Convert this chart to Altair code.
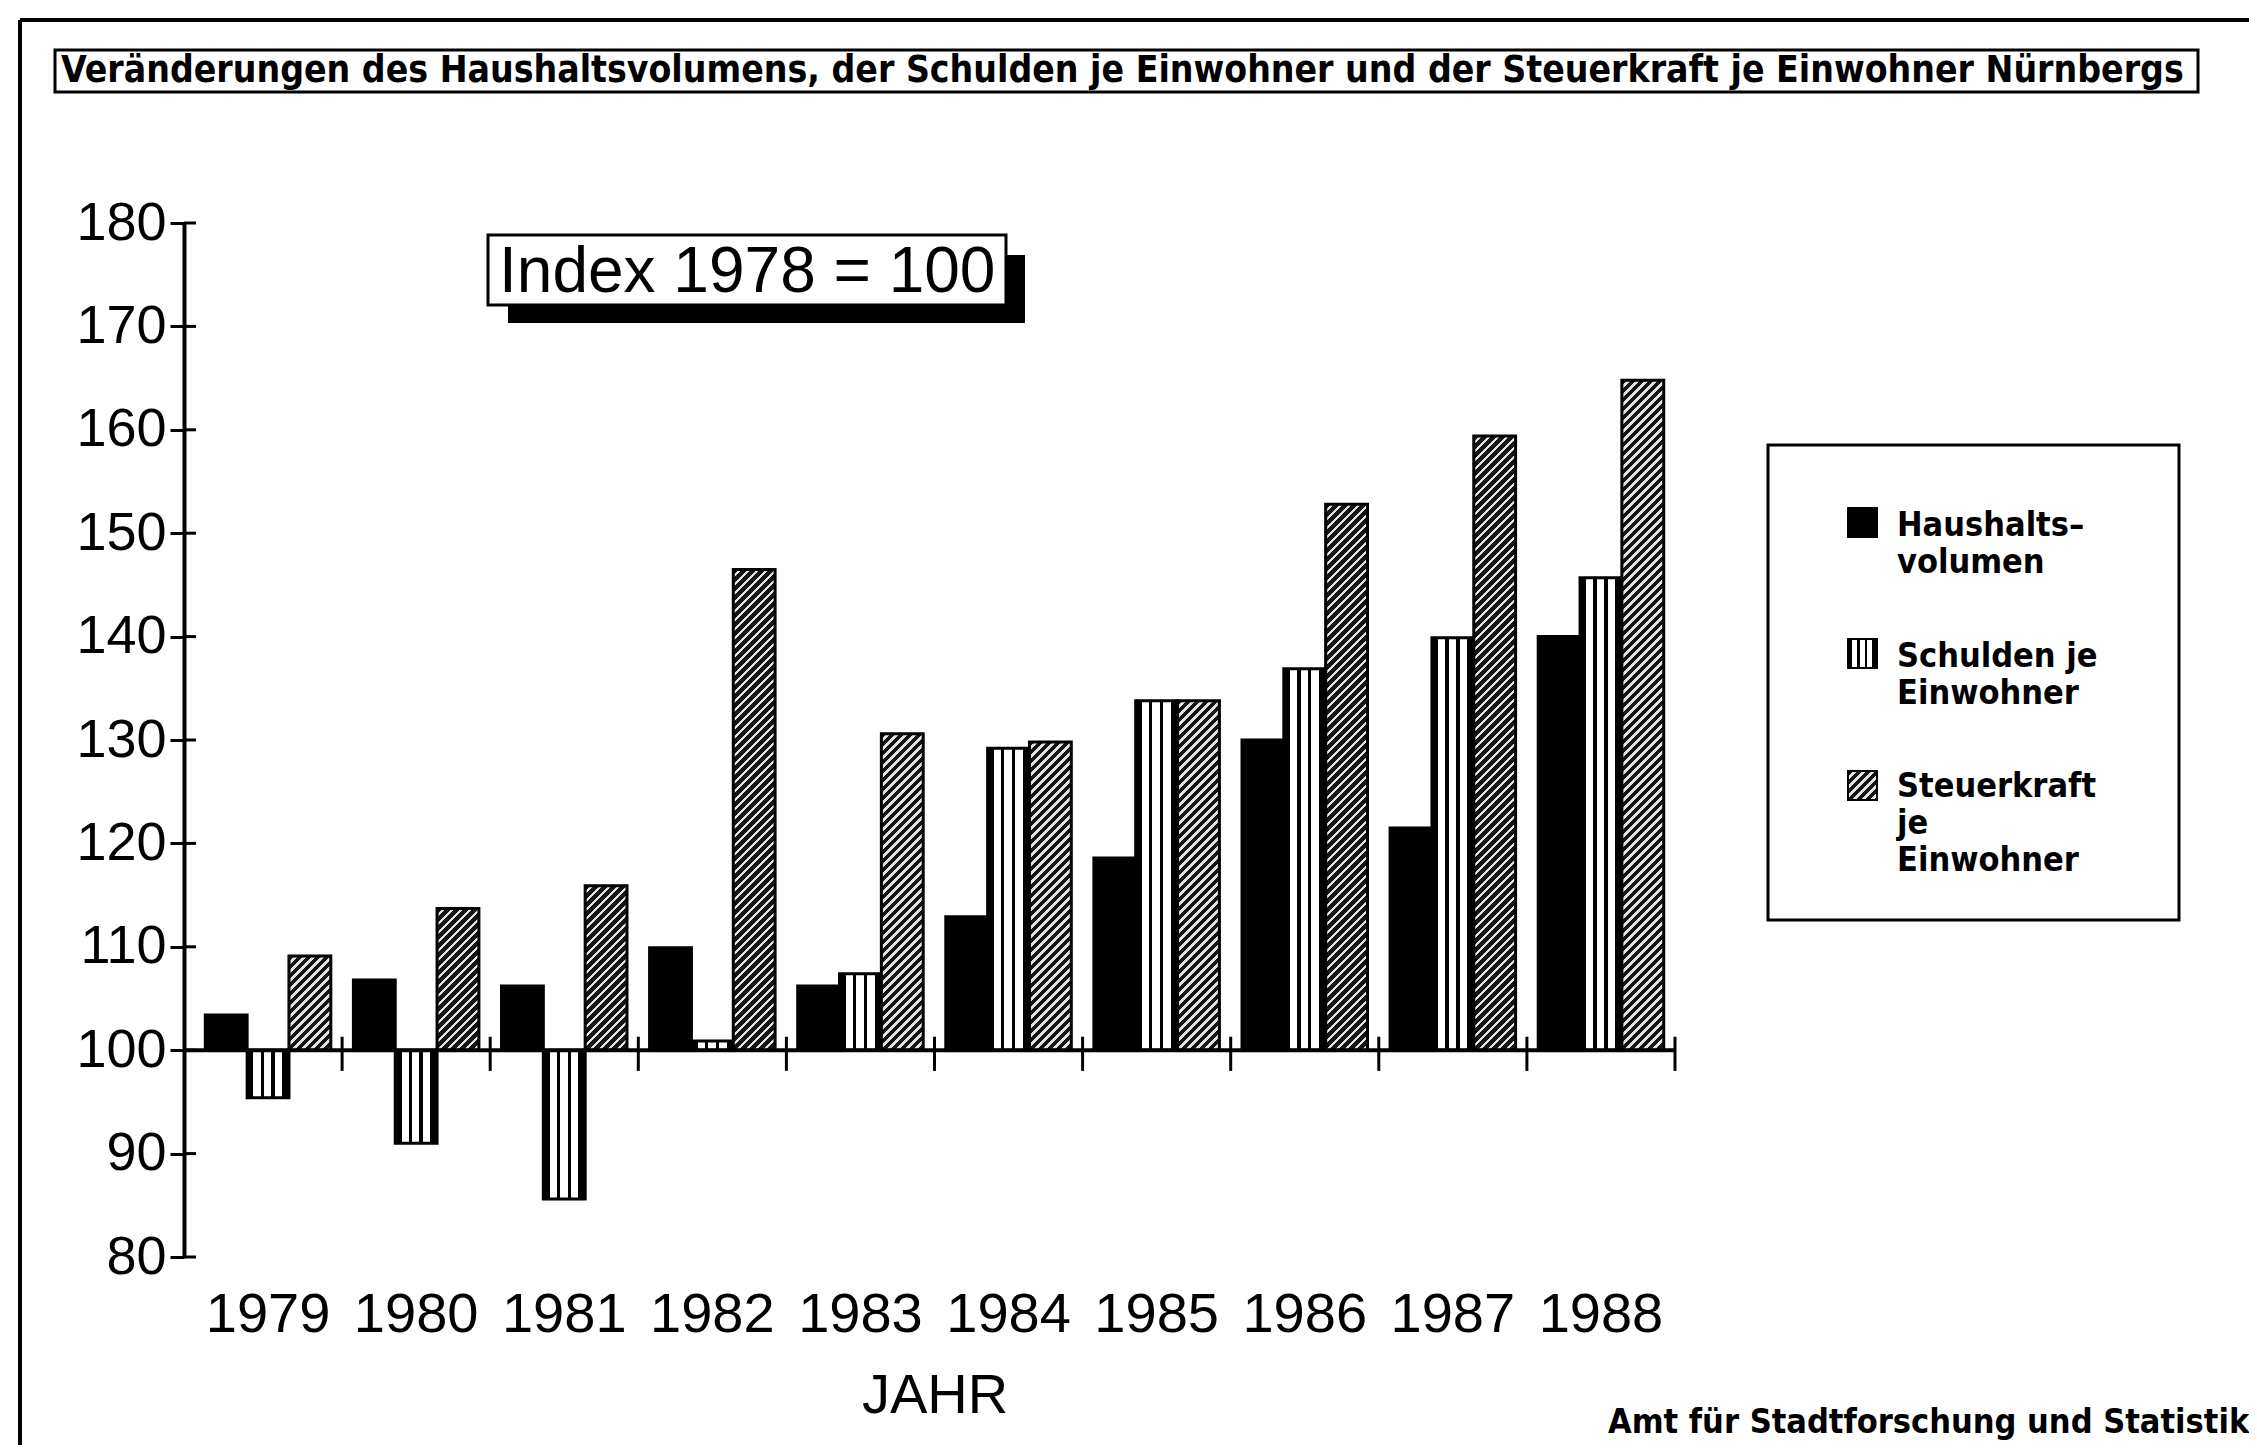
import math
import altair as alt
import pandas as pd

# ---------------- data ----------------
YEARS = ["1979", "1980", "1981", "1982", "1983", "1984", "1985", "1986", "1987", "1988"]
HAUSHALT = [103.4, 106.8, 106.2, 109.9, 106.2, 112.9, 118.6, 130.0, 121.5, 140.0]
SCHULDEN = [95.4, 91.0, 85.6, 100.9, 107.4, 129.2, 133.8, 136.9, 139.9, 145.7]
STEUER = [109.1, 113.7, 115.9, 146.5, 130.6, 129.8, 133.8, 152.8, 159.4, 164.8]
SERIES = ["Haushaltsvolumen", "Schulden je Einwohner", "Steuerkraft je Einwohner"]
Y_TICKS = [80, 90, 100, 110, 120, 130, 140, 150, 160, 170, 180]
BASE = 100
TITLE = ("Veränderungen des Haushaltsvolumens, der Schulden je Einwohner "
         "und der Steuerkraft je Einwohner Nürnbergs")
INDEX_TEXT = "Index 1978 = 100"
LEGEND_LABELS = [["Haushalts–", "volumen"], ["Schulden je", "Einwohner"],
                 ["Steuerkraft", "je", "Einwohner"]]
X_TITLE = "JAHR"
SOURCE = "Amt für Stadtforschung und Statistik"

# ---------------- layout ----------------
W, H = 1481, 1034
PAD = {"left": 186, "top": 215, "right": 574, "bottom": 188}
P_OUT = 0.27
BAR_W = (W / len(YEARS)) / (3 + 2 * P_OUT)
COND = "DejaVu Sans Condensed"
SANS = "Liberation Sans"

yscale = alt.Scale(domain=[80, 180], nice=False, zero=False)
xscale = alt.Scale(domain=YEARS, paddingInner=0, paddingOuter=0)
oscale = alt.Scale(domain=SERIES, paddingInner=0, paddingOuter=P_OUT)

x_axis = alt.Axis(title=X_TITLE, labelAngle=0, domain=False, ticks=False,
                  labelFont=SANS, labelFontSize=56, labelColor="black", labelPadding=30,
                  titleFont=SANS, titleFontSize=56, titleFontWeight="normal",
                  titleColor="black", titlePadding=26)
y_axis = alt.Axis(title=None, values=Y_TICKS, grid=False, offset=10,
                  labelFont=SANS, labelFontSize=54, labelColor="black", labelPadding=4,
                  tickSize=14, tickWidth=3, tickColor="black",
                  domainWidth=4, domainColor="black")


def xenc(**kw):
    return alt.X("year:N", scale=xscale, axis=x_axis, **kw)


def yenc(field="value:Q"):
    return alt.Y(field, scale=yscale, axis=y_axis)


def stripes():
    pts = [(0, 0.15, "black"), (0.15, 0.32, "white"), (0.32, 0.40, "black"),
           (0.40, 0.58, "white"), (0.58, 0.66, "black"), (0.66, 0.84, "white"),
           (0.84, 1.0, "black")]
    stops = []
    for a, b, c in pts:
        stops.append({"offset": a, "color": c})
        stops.append({"offset": b, "color": c})
    return {"gradient": "linear", "x1": 0, "y1": 0, "x2": 1, "y2": 0, "stops": stops}


def hatch(w, h, period=9.0, dark_frac=0.6, dark="#151515", light="#e2e2e2"):
    lam = (w + h) / (w * w + h * h)
    total = w + h
    n = int(math.ceil(total / period))
    stops = []
    for k in range(n):
        t0 = min(1.0, k * period / total)
        t1 = min(1.0, (k + dark_frac) * period / total)
        t2 = min(1.0, (k + 1) * period / total)
        stops += [{"offset": t0, "color": dark}, {"offset": t1, "color": dark},
                  {"offset": t1, "color": light}, {"offset": t2, "color": light}]
    return {"gradient": "linear", "x1": 0, "y1": 0, "x2": lam * w, "y2": lam * h,
            "stops": stops}


one = pd.DataFrame({"k": [0]})


def rect(x, x2, y, y2, **mk):
    return alt.Chart(one).mark_rect(**mk).encode(
        x=alt.value(x), x2=alt.value(x2), y=alt.value(y), y2=alt.value(y2))


def text(t, x, y, **mk):
    return alt.Chart(one).mark_text(text=t, align="left", baseline="alphabetic",
                                    color="black", **mk).encode(
        x=alt.value(x), y=alt.value(y))


def line(x, x2, y, y2, w=4):
    return alt.Chart(one).mark_rule(color="black", strokeWidth=w).encode(
        x=alt.value(x), x2=alt.value(x2), y=alt.value(y), y2=alt.value(y2))


layers = []

# page frame and title box
layers.append(line(-174, -174, -203, 1240))
layers.append(line(-174, 2080, -203, -203))
layers.append(rect(-139, 2004, -173, -131, fill="white", stroke="black", strokeWidth=3))
layers.append(text(TITLE, -133, -141, font=COND, fontSize=37, fontWeight="bold"))

# bars
df_h = pd.DataFrame({"year": YEARS, "value": HAUSHALT, "series": SERIES[0]})
df_s = pd.DataFrame({"year": YEARS, "value": SCHULDEN, "series": SERIES[1]})
bar_enc = dict(x=xenc(), xOffset=alt.XOffset("series:N", scale=oscale),
               y=yenc(), y2=alt.Y2(datum=BASE))
layers.append(alt.Chart(df_h).mark_bar(fill="black", stroke="black", strokeWidth=3)
              .encode(**bar_enc))
layers.append(alt.Chart(df_s).mark_bar(fill=stripes(), stroke="black", strokeWidth=3)
              .encode(**bar_enc))
for yr, v in zip(YEARS, STEUER):
    h_px = abs(v - BASE) / 100.0 * H
    df_one = pd.DataFrame({"year": [yr], "value": [v], "series": [SERIES[2]]})
    layers.append(alt.Chart(df_one)
                  .mark_bar(fill=hatch(BAR_W, h_px), stroke="black", strokeWidth=3)
                  .encode(**bar_enc))

# baseline at 100 with group ticks
base_df = pd.DataFrame({"year": YEARS})
layers.append(alt.Chart(one).mark_rule(color="black", strokeWidth=4).encode(
    y=alt.Y(datum=BASE, type="quantitative", scale=yscale, axis=y_axis),
    x=alt.value(-10), x2=alt.value(W)))
layers.append(alt.Chart(base_df).mark_rule(color="black", strokeWidth=3).encode(
    x=xenc(bandPosition=1),
    y=alt.Y(datum=101.3, type="quantitative", scale=yscale, axis=y_axis),
    y2=alt.Y2(datum=98.0)))
# right-hand stubs of the y ticks
layers.append(alt.Chart(pd.DataFrame({"t": Y_TICKS})).mark_rule(color="black", strokeWidth=3)
              .encode(y=yenc("t:Q"), x=alt.value(-10), x2=alt.value(2)))

# index box
layers.append(rect(314, 831, 32, 100, fill="black"))
layers.append(rect(294, 812, 12, 82, fill="white", stroke="black", strokeWidth=3))
layers.append(text(INDEX_TEXT, 305, 69, font=SANS, fontSize=64))

# legend
layers.append(rect(1574, 1985, 222, 697, fill="white", stroke="black", strokeWidth=3))
sym_y = [285, 416, 548]
txt_y = [313, 444, 574]
fills = [{"fill": "black"}, {"fill": stripes()}, {"fill": hatch(29, 29)}]
for sy, ty, f, lab in zip(sym_y, txt_y, fills, LEGEND_LABELS):
    layers.append(rect(1654, 1683, sy, sy + 29, stroke="black", strokeWidth=2, **f))
    layers.append(text(lab, 1703, ty, font=COND, fontSize=34, fontWeight="bold",
                       lineHeight=37))

# source note
layers.append(text(SOURCE, 1414, 1210, font=COND, fontSize=34, fontWeight="bold"))

chart = alt.layer(*layers).properties(
    width=W, height=H,
    autosize=alt.AutoSizeParams(type="none"),
    padding=PAD,
    background="white",
).configure_view(stroke=None)

chart.save("out.html", embed_options={"renderer": "svg", "actions": False})
